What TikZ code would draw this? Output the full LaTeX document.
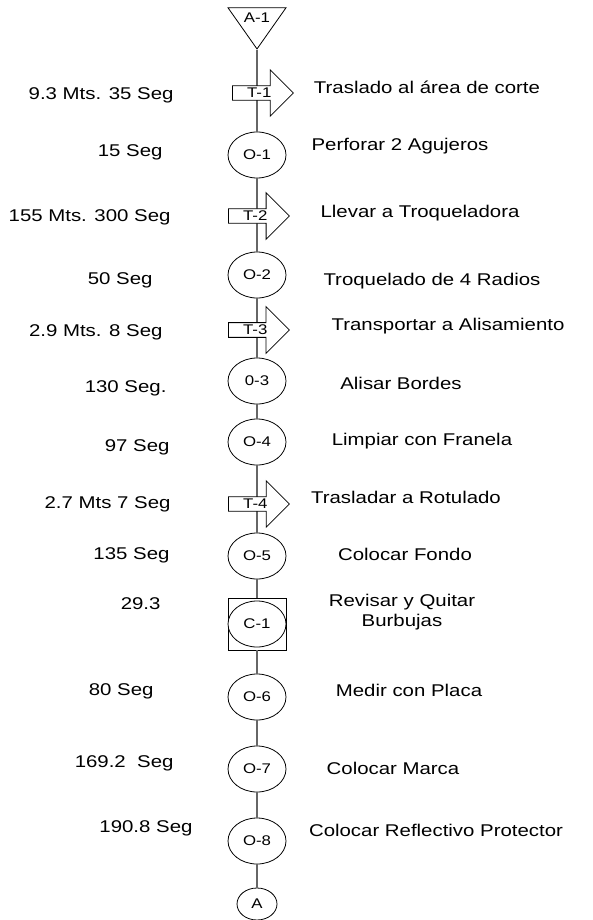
\documentclass[tikz,border=0pt]{standalone}
\usepackage{fontspec}
\setmainfont[FakeStretch=1.2]{Liberation Sans}
\usetikzlibrary{
  shapes.geometric, % 椭圆与三角形
  shapes.arrows,    % 运输箭头
  positioning       % 节点相对定位
}
\tikzset{
  oper/.style={
    ellipse, draw, fill=white,
    line width=0.8pt,
    minimum width=58pt, minimum height=46pt,
    inner sep=0pt,
    font=\fontsize{14pt}{16pt}\selectfont
  },
  transp/.style={
    single arrow, draw, fill=white,
    line width=0.8pt,
    minimum height=61pt,
    single arrow head extend=16pt,
    inner sep=2pt, anchor=tail,
    font=\fontsize{14pt}{16pt}\selectfont
  },
  insp box/.style={
    rectangle, draw,
    line width=0.8pt,
    minimum width=58pt, minimum height=52pt
  },
  store/.style={
    isosceles triangle, isosceles triangle stretches,
    shape border rotate=270, draw, fill=white,
    line width=0.8pt,
    minimum width=58pt, minimum height=40pt,
    inner sep=0pt,
    font=\fontsize{14pt}{16pt}\selectfont
  },
  flow line/.style={
    draw=black!60, line width=1.6pt
  },
  time label/.style={
    anchor=east,
    font=\fontsize{17pt}{20pt}\selectfont
  },
  act label/.style={
    align=center,
    font=\fontsize{17pt}{20pt}\selectfont
  }
}

\begin{document}
\begin{tikzpicture}[x=1pt, y=-1pt]
    \useasboundingbox (0, 0) rectangle (593, 920);

    % 主流程符号（中心线 x=257）
    \node[store, anchor=apex] (a1) at (257, 50) {A-1};
    \node[oper] (o1) at (257, 155) {O-1};
    \node[oper] (o2) at (257, 275) {O-2};
    \node[oper] (o3) at (257, 381) {0-3};
    \node[oper] (o4) at (257, 442) {O-4};
    \node[oper] (o5) at (257, 556) {O-5};
    \node[insp box] (c1box) at (257, 624) {};
    \node[oper] (c1) at (257, 624) {C-1};
    \node[oper] (o6) at (257, 697) {O-6};
    \node[oper] (o7) at (257, 769) {O-7};
    \node[oper] (o8) at (257, 841) {O-8};
    \node[oper, minimum width=40pt, minimum height=32pt] (fin) at (257, 904) {A};

    % 连接线
    \draw[flow line] (a1.apex) -- (o1.north);
    \draw[flow line] (o1.south) -- (o2.north);
    \draw[flow line] (o2.south) -- (o3.north);
    \draw[flow line] (o3.south) -- (o4.north);
    \draw[flow line] (o4.south) -- (o5.north);
    \draw[flow line] (o5.south) -- (c1box.north);
    \draw[flow line] (c1box.south) -- (o6.north);
    \draw[flow line] (o6.south) -- (o7.north);
    \draw[flow line] (o7.south) -- (o8.north);
    \draw[flow line] (o8.south) -- (fin.north);

    % 运输箭头（盖在连接线上）
    \node[transp] (t1) at (232, 93) {T-1};
    \node[transp] (t2) at (228, 216) {T-2};
    \node[transp] (t3) at (228, 330) {T-3};
    \node[transp] (t4) at (228, 504) {T-4};

    % 左侧：距离与时间
    \node[time label] (d1) at (177, 95) {9.3 Mts. 35 Seg};
    \node[time label] (d2) at (166, 152) {15 Seg};
    \node[time label] (d3) at (174, 217) {155 Mts. 300 Seg};
    \node[time label] (d4) at (156, 280) {50 Seg};
    \node[time label] (d5) at (166, 332) {2.9 Mts. 8 Seg};
    \node[time label] (d6) at (170, 388) {130 Seg.};
    \node[time label] (d7) at (173, 447) {97 Seg};
    \node[time label] (d8) at (174, 504) {2.7 Mts 7 Seg};
    \node[time label] (d9) at (173, 555) {135 Seg};
    \node[time label] (d10) at (164, 604) {29.3};
    \node[time label] (d11) at (157, 691) {80 Seg};
    \node[time label] (d12) at (177, 763) {169.2\ \ Seg};
    \node[time label] (d13) at (196, 828) {190.8 Seg};

    % 右侧：活动说明
    \node[act label] (r1) at (427, 87) {Traslado al área de corte};
    \node[act label] (r2) at (400, 146) {Perforar 2 Agujeros};
    \node[act label] (r3) at (420, 213) {Llevar a Troqueladora};
    \node[act label] (r4) at (432, 281) {Troquelado de 4 Radios};
    \node[act label] (r5) at (448, 326) {Transportar a Alisamiento};
    \node[act label] (r6) at (401, 383) {Alisar Bordes};
    \node[act label] (r7) at (422, 441) {Limpiar con Franela};
    \node[act label] (r8) at (406, 497) {Trasladar a Rotulado};
    \node[act label] (r9) at (405, 554) {Colocar Fondo};
    \node[act label] (r10) at (402, 612) {Revisar y Quitar\\Burbujas};
    \node[act label] (r11) at (409, 690) {Medir con Placa};
    \node[act label] (r12) at (393, 768) {Colocar Marca};
    \node[act label] (r13) at (436, 830) {Colocar Reflectivo Protector};

  \end{tikzpicture}
\end{document}
